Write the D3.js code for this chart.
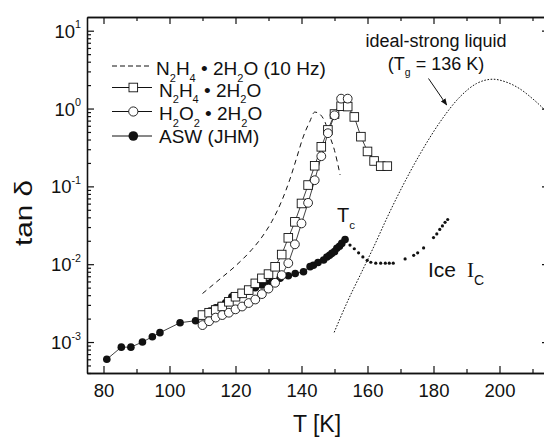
<!DOCTYPE html>
<html>
<head>
<meta charset="utf-8">
<script src="https://cdn.jsdelivr.net/npm/d3@7"></script>
<style>
  body { margin: 0; background: #fff; }
  svg { display: block; font-family: "Liberation Sans", Arial, sans-serif; }
</style>
</head>
<body>
<svg id="chart" width="544" height="437"></svg>
<script>
// ASW (JHM), large dots up to Tc
var T_asw = [81.0, 85.4, 88.3, 91.8, 94.8, 97.1, 103.2, 107.9, 110.5, 112.3, 114.0, 115.5, 117.0, 118.9, 120.5, 122.0, 124.0, 126.0, 128.0, 129.5, 131.0, 133.5, 136.0, 138.1, 140.6, 142.6, 143.6, 145.0, 146.7, 147.7, 148.5, 149.2, 150.0, 150.7, 151.5, 152.2, 153.2];
var tan_asw = [6.0e-4, 8.6e-4, 8.6e-4, 1.0e-3, 1.17e-3, 1.32e-3, 1.77e-3, 1.88e-3, 2.2e-3, 2.5e-3, 2.75e-3, 2.95e-3, 3.2e-3, 3.8e-3, 3.9e-3, 4.2e-3, 4.5e-3, 5.0e-3, 5.4e-3, 5.7e-3, 6.0e-3, 6.6e-3, 7.1e-3, 7.6e-3, 8.0e-3, 9.3e-3, 9.7e-3, 1.05e-2, 1.13e-2, 1.24e-2, 1.3e-2, 1.38e-2, 1.45e-2, 1.6e-2, 1.7e-2, 1.85e-2, 2.08e-2];

// ASW after crystallization (small dots)
var T_ice = [154.7, 156.0, 157.3, 158.6, 159.9, 161.0, 162.5, 164.0, 165.4, 166.6, 167.8, 171.4, 174.0, 175.2, 177.0, 180.0, 181.0, 181.9, 182.7, 183.5, 184.3];
var tan_ice = [1.76e-2, 1.58e-2, 1.40e-2, 1.24e-2, 1.12e-2, 1.06e-2, 1.03e-2, 1.03e-2, 1.03e-2, 1.03e-2, 1.03e-2, 1.17e-2, 1.30e-2, 1.40e-2, 1.62e-2, 2.2e-2, 2.45e-2, 2.8e-2, 3.1e-2, 3.45e-2, 3.75e-2];

// N2H4 . 2H2O (squares)
var T_n2h4 = [110, 112, 114, 116, 118, 120, 122, 124, 126, 128, 130, 132, 134, 136, 138, 140, 142, 144, 146, 148, 150, 152, 154, 156, 158, 160, 162, 164, 166];
var tan_n2h4 = [2.22e-3, 2.38e-3, 2.58e-3, 2.86e-3, 3.29e-3, 3.82e-3, 4.22e-3, 4.65e-3, 5.67e-3, 6.58e-3, 7.46e-3, 9.27e-3, 1.33e-2, 2.18e-2, 3.5e-2, 6.03e-2, 0.104, 0.184, 0.322, 0.531, 0.85, 1.07, 1.06, 0.78, 0.435, 0.281, 0.212, 0.182, 0.182];

// H2O2 . 2H2O (open circles)
var T_h2o2 = [110, 112, 114, 116, 118, 120, 122, 124, 126, 128, 130, 132, 134, 136, 138, 140, 142, 144, 146, 148, 150, 152, 154];
var tan_h2o2 = [1.65e-3, 1.85e-3, 2.06e-3, 2.22e-3, 2.38e-3, 2.63e-3, 2.86e-3, 3.17e-3, 3.52e-3, 4.13e-3, 4.86e-3, 5.77e-3, 7.24e-3, 1.03e-2, 1.8e-2, 3.34e-2, 6.14e-2, 0.120, 0.244, 0.482, 0.82, 1.34, 1.34];

// N2H4 . 2H2O at 10 Hz (dashed)
var T_10hz = [110, 115, 120, 125, 128, 131, 134, 136.5, 138.5, 140.5, 142.5, 144, 145.5, 147, 148.5, 150, 151.7];
var tan_10hz = [4.2e-3, 6.3e-3, 9.5e-3, 1.55e-2, 2.23e-2, 3.54e-2, 6.5e-2, 0.124, 0.23, 0.43, 0.68, 0.90, 0.85, 0.69, 0.45, 0.29, 0.14];

// ideal-strong liquid (dotted)
var T_strong = [149.9, 154, 158, 162, 166, 170, 176, 182, 188, 193, 198, 202, 206, 210, 215];
var tan_strong = [1.33e-3, 3.36e-3, 7.57e-3, 1.71e-2, 4.02e-2, 8.94e-2, 0.264, 0.673, 1.41, 2.09, 2.38, 2.19, 1.81, 1.34, 0.85];

var xMajor = [80, 100, 120, 140, 160, 180, 200];
var xMinor = [90, 110, 130, 150, 170, 190, 210];
var yDecades = [-3, -2, -1, 0, 1];

var svg = d3.select("#chart");
var mLeft = 87, mRight = 549, mTop = 17, mBottom = 373;

var x = d3.scaleLinear().domain([75, 215]).range([mLeft, mRight]);
var y = d3.scaleLog().domain([4e-4, 15]).range([mBottom, mTop]);

function zip(ts, vs) {
	return ts.map(function (t, i) { return { t: t, v: vs[i] }; });
}

// text with sub/superscripts, parts = [[string, "sub"|"sup"|null], ...]
function richText(g, px, py, parts, size, anchor) {
	var t = g.append("text").attr("x", px).attr("y", py)
		.attr("font-size", size).attr("text-anchor", anchor || "start").attr("fill", "#111");
	var shift = 0;
	parts.forEach(function (p) {
		var target = p[1] === "sub" ? size * 0.36 : (p[1] === "sup" ? -size * 0.5 : 0);
		t.append("tspan").attr("dy", target - shift)
			.attr("font-size", p[1] ? size * 0.58 : size).text(p[0]);
		shift = target;
	});
	return t;
}

var defs = svg.append("defs");
defs.append("clipPath").attr("id", "plotclip")
	.append("rect").attr("x", mLeft).attr("y", mTop).attr("width", mRight - mLeft).attr("height", mBottom - mTop);

var plot = svg.append("g").attr("clip-path", "url(#plotclip)");

var line = d3.line().x(function (d) { return x(d.t); }).y(function (d) { return y(d.v); });
var smooth = d3.line().curve(d3.curveMonotoneX).x(function (d) { return x(d.t); }).y(function (d) { return y(d.v); });

// curves
plot.append("path").datum(zip(T_strong, tan_strong)).attr("d", smooth)
	.attr("fill", "none").attr("stroke", "#111").attr("stroke-width", 1).attr("stroke-dasharray", "1.6,1.6");
plot.append("path").datum(zip(T_10hz, tan_10hz)).attr("d", smooth)
	.attr("fill", "none").attr("stroke", "#111").attr("stroke-width", 1).attr("stroke-dasharray", "5,4");

var asw = zip(T_asw, tan_asw);
var n2h4 = zip(T_n2h4, tan_n2h4);
var h2o2 = zip(T_h2o2, tan_h2o2);

plot.append("path").datum(asw).attr("d", line).attr("fill", "none").attr("stroke", "#111").attr("stroke-width", 0.8);
plot.append("path").datum(n2h4).attr("d", line).attr("fill", "none").attr("stroke", "#111").attr("stroke-width", 0.8);
plot.append("path").datum(h2o2).attr("d", line).attr("fill", "none").attr("stroke", "#111").attr("stroke-width", 0.8);

plot.selectAll("circle.asw").data(asw).enter().append("circle").attr("class", "asw")
	.attr("cx", function (d) { return x(d.t); }).attr("cy", function (d) { return y(d.v); })
	.attr("r", 3.8).attr("fill", "#111");

plot.selectAll("circle.ice").data(zip(T_ice, tan_ice)).enter().append("circle").attr("class", "ice")
	.attr("cx", function (d) { return x(d.t); }).attr("cy", function (d) { return y(d.v); })
	.attr("r", 1.6).attr("fill", "#111");

plot.selectAll("rect.n2h4").data(n2h4).enter().append("rect").attr("class", "n2h4")
	.attr("x", function (d) { return x(d.t) - 4.3; }).attr("y", function (d) { return y(d.v) - 4.3; })
	.attr("width", 8.6).attr("height", 8.6).attr("fill", "#fff").attr("stroke", "#111").attr("stroke-width", 0.9);

plot.selectAll("circle.h2o2").data(h2o2).enter().append("circle").attr("class", "h2o2")
	.attr("cx", function (d) { return x(d.t); }).attr("cy", function (d) { return y(d.v); })
	.attr("r", 4.4).attr("fill", "#fff").attr("stroke", "#111").attr("stroke-width", 0.9);

// axes
function styleAxis(g) {
	g.selectAll("path.domain").attr("stroke", "#111").attr("stroke-width", 1.3);
	g.selectAll(".tick line").attr("stroke", "#111").attr("stroke-width", 1.2);
	g.selectAll(".tick text").attr("font-size", 18.5).attr("fill", "#111")
		.attr("font-family", "'Liberation Sans', Arial, sans-serif");
}

var minorY = [];
yDecades.forEach(function (e) {
	for (var k = 2; k <= 9; k++) {
		var v = k * Math.pow(10, e - 1);
		if (v >= 4e-4 && v <= 15) minorY.push(v);
	}
});
minorY.push(20);
minorY = minorY.filter(function (v) { return v <= 15; });
var decadeVals = yDecades.map(function (e) { return Math.pow(10, e); });

svg.append("g").attr("transform", "translate(0," + mBottom + ")")
	.call(d3.axisBottom(x).tickValues(xMajor).tickSize(-7).tickSizeOuter(0).tickPadding(11)).call(styleAxis);
svg.append("g").attr("transform", "translate(0," + mBottom + ")")
	.call(d3.axisBottom(x).tickValues(xMinor).tickSize(-4).tickSizeOuter(0).tickFormat("")).call(styleAxis);

svg.append("g").attr("transform", "translate(0," + mTop + ")")
	.call(d3.axisTop(x).tickValues(xMajor).tickSize(-7).tickSizeOuter(0).tickFormat("")).call(styleAxis);
svg.append("g").attr("transform", "translate(0," + mTop + ")")
	.call(d3.axisTop(x).tickValues(xMinor).tickSize(-4).tickSizeOuter(0).tickFormat("")).call(styleAxis);

svg.append("g").attr("transform", "translate(" + mLeft + ",0)")
	.call(d3.axisLeft(y).tickValues(decadeVals).tickSize(-7).tickSizeOuter(0).tickFormat("")).call(styleAxis);
svg.append("g").attr("transform", "translate(" + mLeft + ",0)")
	.call(d3.axisLeft(y).tickValues(minorY).tickSize(-4).tickSizeOuter(0).tickFormat("")).call(styleAxis);
svg.append("g").attr("transform", "translate(" + mRight + ",0)")
	.call(d3.axisRight(y).tickValues(decadeVals).tickSize(-7).tickSizeOuter(0).tickFormat("")).call(styleAxis);
svg.append("g").attr("transform", "translate(" + mRight + ",0)")
	.call(d3.axisRight(y).tickValues(minorY).tickSize(-4).tickSizeOuter(0).tickFormat("")).call(styleAxis);

// y tick labels 10^n
yDecades.forEach(function (e) {
	richText(svg, 81, y(Math.pow(10, e)) + 7, [["10", null], [String(e), "sup"]], 18.5, "end");
});

// axis titles
svg.append("text").attr("x", 317).attr("y", 432).attr("text-anchor", "middle")
	.attr("font-size", 23).attr("fill", "#111").text("T [K]");
svg.append("text").attr("transform", "translate(32,213) rotate(-90)").attr("text-anchor", "middle")
	.attr("font-size", 23).attr("fill", "#111").attr("textLength", 66).attr("lengthAdjust", "spacingAndGlyphs")
	.text("tan δ");

// legend
var lg = svg.append("g");
var rows = [66, 87.5, 111.5, 136];
lg.append("line").attr("x1", 112).attr("x2", 152).attr("y1", rows[0]).attr("y2", rows[0])
	.attr("stroke", "#111").attr("stroke-width", 1).attr("stroke-dasharray", "5,3");
[1, 2, 3].forEach(function (i) {
	lg.append("line").attr("x1", 112).attr("x2", 152).attr("y1", rows[i]).attr("y2", rows[i])
		.attr("stroke", "#111").attr("stroke-width", 1);
});
lg.append("rect").attr("x", 129).attr("y", rows[1] - 4.3).attr("width", 8.6).attr("height", 8.6)
	.attr("fill", "#fff").attr("stroke", "#111").attr("stroke-width", 0.9);
lg.append("circle").attr("cx", 133.3).attr("cy", rows[2]).attr("r", 4.6)
	.attr("fill", "#fff").attr("stroke", "#111").attr("stroke-width", 0.9);
lg.append("circle").attr("cx", 133.3).attr("cy", rows[3]).attr("r", 4.8).attr("fill", "#111");

richText(lg, 156, rows[0] + 9, [["N", null], ["2", "sub"], ["H", null], ["4", "sub"], [" \u2022 2H", null], ["2", "sub"], ["O (10 Hz)", null]], 19);
richText(lg, 159, rows[1] + 9, [["N", null], ["2", "sub"], ["H", null], ["4", "sub"], [" \u2022 2H", null], ["2", "sub"], ["O", null]], 19);
richText(lg, 159, rows[2] + 8.5, [["H", null], ["2", "sub"], ["O", null], ["2", "sub"], [" \u2022 2H", null], ["2", "sub"], ["O", null]], 19);
richText(lg, 159, rows[3] + 6.5, [["ASW (JHM)", null]], 19);

// annotations
svg.append("text").attr("x", 436).attr("y", 47).attr("text-anchor", "middle")
	.attr("font-size", 18).attr("fill", "#111").text("ideal-strong liquid");
richText(svg, 436, 70, [["(T", null], ["g", "sub"], [" = 136 K)", null]], 18, "middle");

defs.append("marker").attr("id", "arrow").attr("viewBox", "0 0 10 10")
	.attr("refX", 9).attr("refY", 5).attr("markerWidth", 7).attr("markerHeight", 7).attr("orient", "auto")
	.append("path").attr("d", "M0,1 L10,5 L0,9 z").attr("fill", "#111");
svg.append("line").attr("x1", 428.5).attr("y1", 78.5).attr("x2", 446.7).attr("y2", 105)
	.attr("stroke", "#111").attr("stroke-width", 1).attr("marker-end", "url(#arrow)");

richText(svg, 337, 222, [["T", null], ["c", "sub"]], 20);

svg.append("text").attr("x", 428).attr("y", 277).attr("font-size", 21).attr("fill", "#111").text("Ice");
var ic = svg.append("text").attr("x", 467).attr("y", 277).attr("font-size", 21).attr("fill", "#111")
	.attr("font-family", "'Liberation Serif', 'Times New Roman', serif");
ic.append("tspan").text("I");
ic.append("tspan").attr("dy", 8).attr("font-size", 14)
	.attr("font-family", "'Liberation Sans', Arial, sans-serif").text("C");
</script>
</body>
</html>
